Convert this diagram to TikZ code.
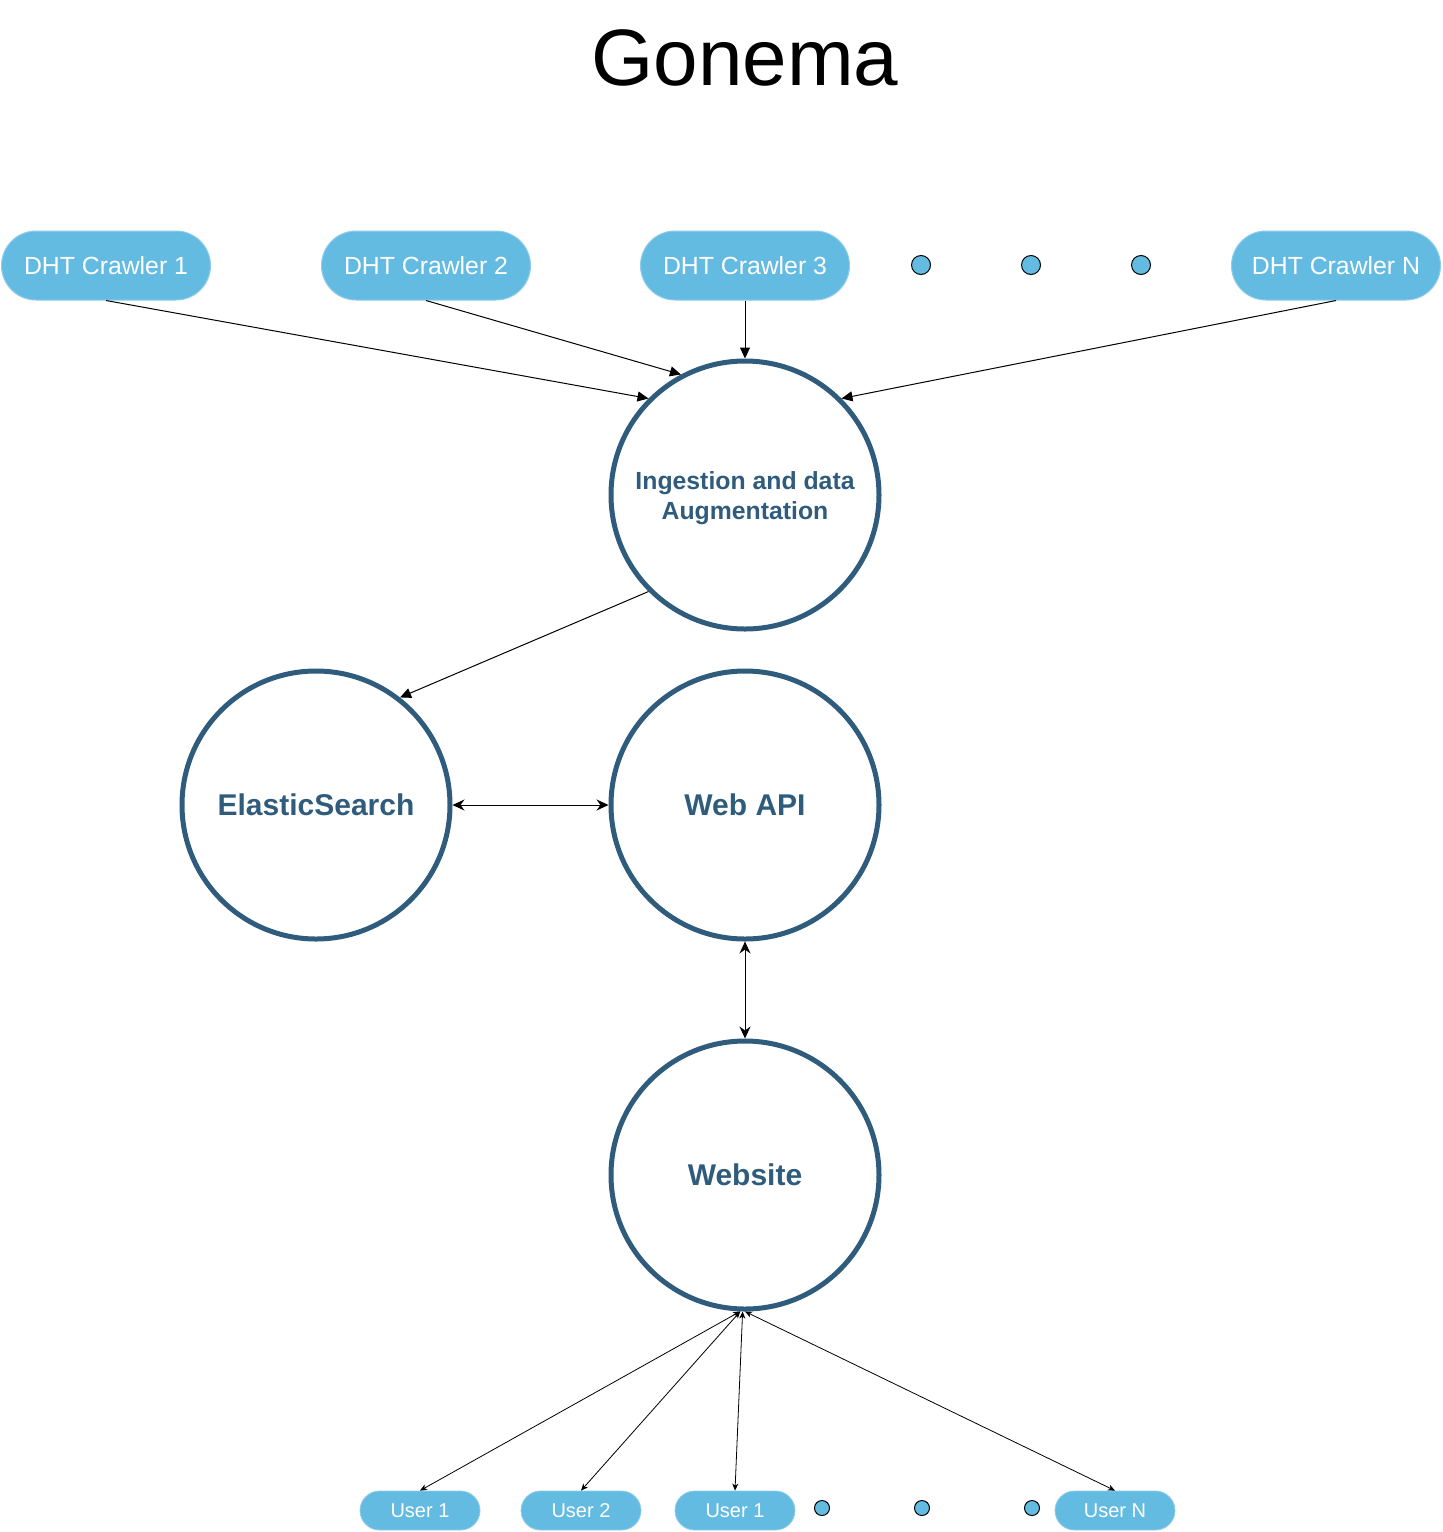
\documentclass[tikz,border=0pt]{standalone}
\usepackage{fontspec}
\setmainfont{Liberation Sans}
\usetikzlibrary{arrows.meta}
\definecolor{pill}{HTML}{64BBE2}
\definecolor{pillborder}{HTML}{8FCDEA}
\definecolor{navy}{HTML}{2F5B7C}
\begin{document}
\begin{tikzpicture}[x=1pt,y=-1pt,
  crawler/.style={draw=pillborder,line width=1pt,fill=pill,rounded corners=34.5pt,minimum width=209pt,minimum height=69pt,inner sep=0pt,text=white,font=\fontsize{24.8}{28}\selectfont},
  userbox/.style={draw=pillborder,line width=0.8pt,fill=pill,rounded corners=19.5pt,minimum width=120pt,minimum height=39pt,inner sep=0pt,text=white,font=\fontsize{20}{24}\selectfont},
  bigcircle/.style={circle,draw=navy,line width=5pt,minimum size=268pt,inner sep=0pt,text=navy,align=center},
  dotbig/.style={circle,draw=black,line width=1pt,fill=pill,minimum size=19pt,inner sep=0pt},
  dotsmall/.style={circle,draw=black,line width=1pt,fill=pill,minimum size=15pt,inner sep=0pt},
  feed/.style={draw=black,line width=1pt,-{Triangle[length=11pt,width=10pt]}},
  twoway/.style={draw=black,line width=1pt,{Stealth[length=12pt,width=11pt,inset=4pt]}-{Stealth[length=12pt,width=11pt,inset=4pt]}},
  userlink/.style={draw=black,line width=0.8pt,{Stealth[length=7pt,width=6pt,inset=2pt]}-{Stealth[length=7pt,width=6pt,inset=2pt]}}
]
\useasboundingbox (0,0) rectangle (1443,1532);

\node[anchor=base,font=\fontsize{80}{90}\selectfont] (title) at (745,85) {Gonema};

% crawlers
\node[crawler] (c1) at (106,265.5) {DHT Crawler 1};
\node[crawler] (c2) at (426,265.5) {DHT Crawler 2};
\node[crawler] (c3) at (745,265.5) {DHT Crawler 3};
\node[crawler] (cn) at (1336,265.5) {DHT Crawler N};
\node[dotbig] (d1) at (921,265) {};
\node[dotbig] (d2) at (1031,265) {};
\node[dotbig] (d3) at (1141,265) {};

% circles
\node[bigcircle] (ing) at (745,495) {};
\node[text=navy,align=center,inner sep=0pt,font=\bfseries\fontsize{24.8}{30}\selectfont] (ingtext) at (745,498) {Ingestion and data\\Augmentation};
\node[bigcircle,font=\bfseries\fontsize{30}{36}\selectfont] (es) at (316,805) {ElasticSearch};
\node[bigcircle,font=\bfseries\fontsize{30}{36}\selectfont] (api) at (745,805) {Web API};
\node[bigcircle,font=\bfseries\fontsize{30}{36}\selectfont] (web) at (745,1175) {Website};

% users
\node[userbox] (u1) at (420,1510.5) {User 1};
\node[userbox] (u2) at (581,1510.5) {User 2};
\node[userbox] (u3) at (735,1510.5) {User 1};
\node[userbox] (un) at (1115,1510.5) {User N};
\node[dotsmall] (e1) at (822,1508) {};
\node[dotsmall] (e2) at (922,1508) {};
\node[dotsmall] (e3) at (1032,1508) {};

% connectors
\draw[feed] (c1.south) -- (ing.135);
\draw[feed] (c2.south) -- (ing.118);
\draw[feed] (c3.south) -- (ing.north);
\draw[feed] (cn.south) -- (ing.45);
\draw[feed] (ing.225) -- (es.52);
\draw[twoway] (es.east) -- (api.west);
\draw[twoway] (api.south) -- (web.north);
\draw[userlink] (web.268) -- (u1.north);
\draw[userlink] (web.268) -- (u2.north);
\draw[userlink] (web.269) -- (u3.north);
\draw[userlink] (web.270) -- (un.north);
\end{tikzpicture}
\end{document}
